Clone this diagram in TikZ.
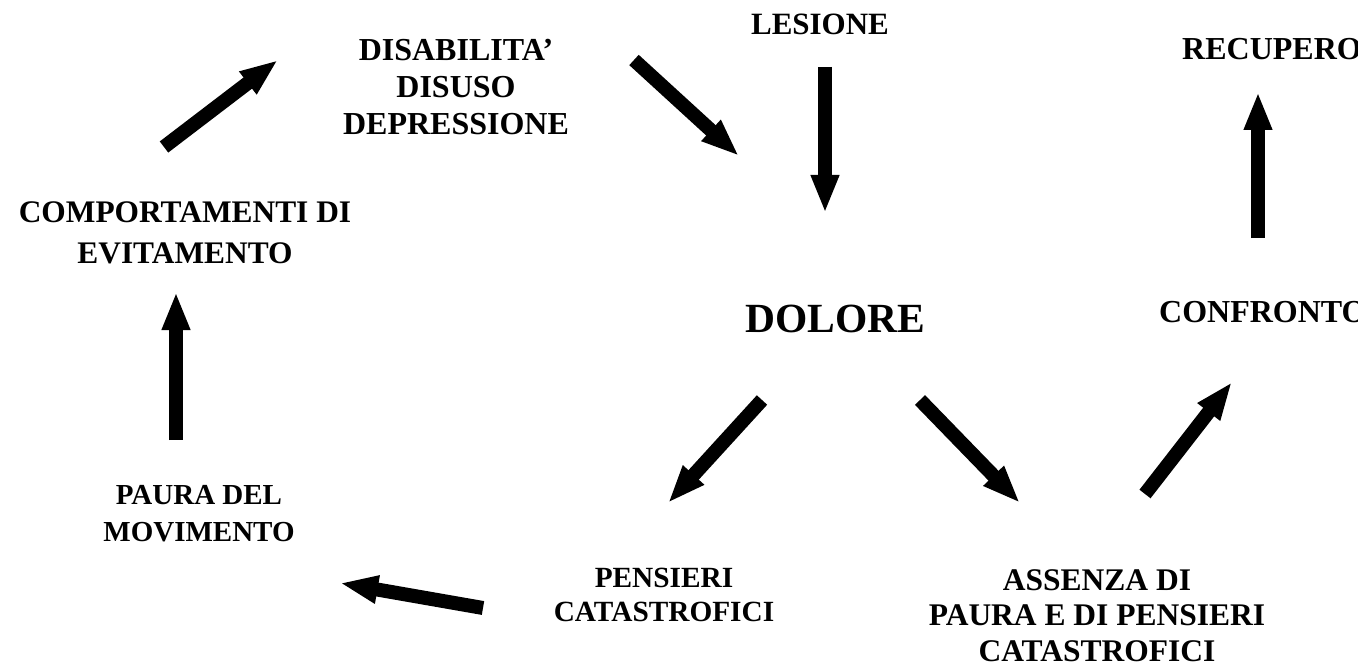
\documentclass[tikz,border=0pt]{standalone}
\usepackage{fontspec}
\setmainfont{Liberation Serif}
\usetikzlibrary{arrows.meta}
\newcommand{\fsz}[2]{\fontsize{#1}{#2}\selectfont}
\tikzset{
  lbl/.style={inner sep=0pt, align=center},
  fat/.style={line width=14pt, -{Triangle[length=38pt,width=26pt]}},
}
\begin{document}
\begin{tikzpicture}[x=1pt,y=-1pt]
\useasboundingbox (0,0) rectangle (1358,666);
\fill[white] (0,0) rectangle (1358,666);
% labels
\node[lbl, font={\bfseries\fsz{31}{37}}] (les) at (820,24.5) {LESIONE};
\node[lbl, font={\bfseries\fsz{32}{37}}] (dis) at (456,87) {DISABILITA'\\DISUSO\\DEPRESSIONE};
\node[lbl, anchor=west, font={\bfseries\fsz{32}{37}}] (rec) at (1182,49) {RECUPERO};
\node[lbl, anchor=west, font={\bfseries\fsz{32}{37}}] (con) at (1159,312) {CONFRONTO};
\node[lbl, font={\bfseries\fsz{31.4}{41}}] (comp) at (185,233) {COMPORTAMENTI DI\\EVITAMENTO};
\node[lbl, font={\bfseries\fsz{41.5}{48}}] (dol) at (835,319) {DOLORE};
\node[lbl, font={\bfseries\fsz{29}{37}}] (pau) at (199,513.5) {PAURA DEL\\MOVIMENTO};
\node[lbl, font={\bfseries\fsz{29.3}{34}}] (pen) at (664,595) {PENSIERI\\CATASTROFICI};
\node[lbl, font={\bfseries\fsz{31.5}{35.5}}] (ass) at (1097,615.5) {ASSENZA DI\\PAURA E DI PENSIERI\\CATASTROFICI};
% arrow end points
\coordinate (a1s) at (825,67);   \coordinate (a1e) at (825,213);
\coordinate (a2s) at (634,60);   \coordinate (a2e) at (739,156);
\coordinate (a3s) at (1258,238); \coordinate (a3e) at (1258,92);
\coordinate (a4s) at (164,147);  \coordinate (a4e) at (278,60);
\coordinate (a5s) at (176,440);  \coordinate (a5e) at (176,292);
\coordinate (a6s) at (483,608);  \coordinate (a6e) at (340,583);
\coordinate (a7s) at (762,400);  \coordinate (a7e) at (668,503);
\coordinate (a8s) at (920,400);  \coordinate (a8e) at (1020,503);
\coordinate (a9s) at (1145,494); \coordinate (a9e) at (1232,382);
\draw[fat] (a1s) -- (a1e);
\draw[fat] (a2s) -- (a2e);
\draw[fat] (a3s) -- (a3e);
\draw[fat] (a4s) -- (a4e);
\draw[fat] (a5s) -- (a5e);
\draw[fat] (a6s) -- (a6e);
\draw[fat] (a7s) -- (a7e);
\draw[fat] (a8s) -- (a8e);
\draw[fat] (a9s) -- (a9e);
\end{tikzpicture}
\end{document}
